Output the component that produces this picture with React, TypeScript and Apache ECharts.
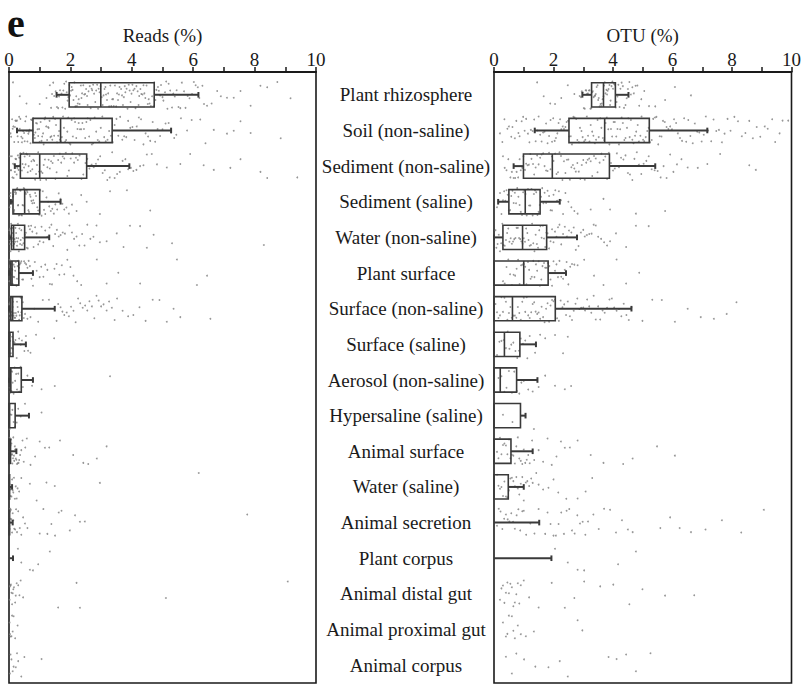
import React, { useEffect, useRef } from 'react';
import * as echarts from 'echarts';

const categories = [
  'Plant rhizosphere', 'Soil (non-saline)', 'Sediment (non-saline)', 'Sediment (saline)',
  'Water (non-saline)', 'Plant surface', 'Surface (non-saline)', 'Surface (saline)',
  'Aerosol (non-saline)', 'Hypersaline (saline)', 'Animal surface', 'Water (saline)',
  'Animal secretion', 'Plant corpus', 'Animal distal gut', 'Animal proximal gut', 'Animal corpus',
];

const xTicks = [0, 2, 4, 6, 8, 10];

// [whisker low, Q1, median, Q3, whisker high] per category (null = no box)
const readsBox: (number[] | null)[] = [
  [1.55, 1.96, 2.99, 4.73, 6.17],
  [0.26, 0.78, 1.68, 3.36, 5.28],
  [0.19, 0.37, 1.0, 2.53, 3.92],
  [0.06, 0.13, 0.51, 1.0, 1.68],
  [0.02, 0.08, 0.15, 0.51, 1.31],
  [0.0, 0.06, 0.1, 0.32, 0.78],
  [0.0, 0.06, 0.12, 0.42, 1.49],
  [0, 0, 0.03, 0.13, 0.55],
  [0, 0.04, 0.06, 0.4, 0.78],
  [0, 0, 0.02, 0.2, 0.65],
  [0, 0, 0.02, 0.05, 0.24],
  [0, 0, 0, 0.02, 0.1],
  [0, 0, 0, 0.02, 0.12],
  [0, 0, 0, 0.01, 0.13],
  null, null, null,
];

const otuBox: (number[] | null)[] = [
  [2.97, 3.28, 3.68, 4.08, 4.52],
  [1.37, 2.52, 3.72, 5.22, 7.17],
  [0.66, 0.99, 1.96, 3.88, 5.42],
  [0.14, 0.5, 1.05, 1.55, 2.21],
  [0, 0.3, 0.96, 1.77, 2.79],
  [0, 0, 1.0, 1.82, 2.42],
  [0, 0, 0.62, 2.06, 4.62],
  [0, 0, 0.35, 0.87, 1.41],
  [0, 0, 0.21, 0.76, 1.46],
  [0, 0, 0, 0.89, 1.06],
  [0, 0, 0, 0.57, 1.3],
  [0, 0, 0, 0.48, 1.0],
  [0, 0, 0, 0, 1.52],
  [0, 0, 0, 0, 1.93],
  null, null, null,
];

// individual sample values per category
const readsDots: number[][] = [
  [0.13, 0.35, 0.57, 1.0, 1.22, 1.33, 1.4, 1.47, 1.52, 1.6, 1.66, 1.71, 1.77, 1.83, 1.88, 1.93, 1.99, 2.04, 2.1, 2.16, 2.21, 2.27, 2.34, 2.38, 2.45, 2.51, 2.56, 2.63, 2.69, 2.74, 2.81, 2.87, 2.92, 2.98, 3.05, 3.11, 3.16, 3.23, 3.3, 3.36, 3.41, 3.49, 3.55, 3.6, 3.68, 3.74, 3.79, 3.86, 3.93, 3.99, 4.05, 4.12, 4.19, 4.24, 4.31, 4.38, 4.44, 4.52, 4.58, 4.66, 4.73, 4.8, 4.88, 4.95, 5.03, 5.12, 5.2, 5.31, 5.4, 5.52, 5.63, 5.75, 5.88, 6.02, 6.15, 6.3, 6.45, 6.78, 7.1, 7.32, 7.54, 7.87, 8.19, 8.41, 8.74, 9.17,
    1.37, 1.44, 1.56, 1.63, 1.74, 1.8, 1.86, 1.91, 1.97, 2.02, 2.07, 2.13, 2.19, 2.24, 2.3, 2.36, 2.42, 2.48, 2.54, 2.59, 2.66, 2.71, 2.77, 2.84, 2.9, 2.95, 3.02, 3.08, 3.14, 3.19, 3.26, 3.33, 3.39, 3.45, 3.52, 3.58, 3.65, 3.71, 3.77, 3.83, 3.9, 3.96, 4.02, 4.09, 4.15, 4.22, 4.28, 4.35, 4.41, 4.48, 4.55, 4.62, 4.7, 4.77, 4.85, 4.92, 5.0, 5.08, 5.16, 5.25, 5.35, 5.46, 5.58, 5.7, 5.82, 5.96, 6.08, 6.2, 6.35, 6.6, 6.9],
  [0.05, 0.1, 0.14, 0.19, 0.23, 0.28, 0.33, 0.37, 0.42, 0.46, 0.51, 0.56, 0.6, 0.65, 0.7, 0.74, 0.79, 0.84, 0.88, 0.93, 0.98, 1.03, 1.08, 1.13, 1.18, 1.24, 1.29, 1.35, 1.41, 1.47, 1.53, 1.6, 1.66, 1.72, 1.79, 1.86, 1.93, 2.0, 2.08, 2.15, 2.23, 2.31, 2.39, 2.48, 2.56, 2.65, 2.74, 2.84, 2.94, 3.04, 3.15, 3.26, 3.38, 3.5, 3.62, 3.75, 3.88, 4.02, 4.16, 4.3, 4.45, 4.6, 4.76, 4.92, 5.1, 5.28, 5.45, 5.8, 6.23, 6.67, 7.1, 7.32, 7.54, 7.87, 8.85,
    0.07, 0.12, 0.17, 0.21, 0.26, 0.3, 0.35, 0.4, 0.44, 0.49, 0.53, 0.58, 0.63, 0.67, 0.72, 0.77, 0.81, 0.86, 0.91, 0.95, 1.0, 1.06, 1.11, 1.16, 1.21, 1.27, 1.32, 1.38, 1.44, 1.5, 1.56, 1.63, 1.69, 1.76, 1.83, 1.9, 1.97, 2.04, 2.12, 2.19, 2.27, 2.35, 2.44, 2.52, 2.61, 2.7, 2.79, 2.89, 2.99, 3.1, 3.21, 3.32, 3.44, 3.56, 3.69, 3.82, 3.95, 4.09, 4.23, 4.38, 4.53, 4.68, 4.84, 5.0, 5.2, 5.38, 5.6, 5.95, 6.4],
  [0.03, 0.07, 0.11, 0.15, 0.19, 0.23, 0.27, 0.31, 0.35, 0.4, 0.44, 0.49, 0.54, 0.59, 0.64, 0.7, 0.76, 0.82, 0.88, 0.95, 1.02, 1.09, 1.17, 1.25, 1.33, 1.42, 1.51, 1.6, 1.7, 1.8, 1.9, 2.01, 2.12, 2.24, 2.36, 2.49, 2.62, 2.76, 2.9, 3.05, 3.2, 3.36, 3.52, 3.7, 3.88, 4.05, 4.27, 4.49, 4.82, 5.14, 5.58, 5.9, 6.34, 6.67, 7.21, 7.54, 8.19, 8.41, 9.39,
    0.05, 0.09, 0.13, 0.17, 0.21, 0.25, 0.29, 0.33, 0.37, 0.42, 0.47, 0.51, 0.56, 0.61, 0.67, 0.73, 0.79, 0.85, 0.91, 0.98, 1.05, 1.13, 1.21, 1.29, 1.37, 1.46, 1.55, 1.65, 1.75, 1.85, 1.95, 2.06, 2.18, 2.3, 2.42, 2.55, 2.69, 2.83, 2.97, 3.12, 3.28, 3.44, 3.61, 3.79, 3.97, 4.15, 4.38, 4.65],
  [0.02, 0.05, 0.08, 0.11, 0.14, 0.17, 0.2, 0.23, 0.27, 0.3, 0.34, 0.38, 0.42, 0.46, 0.5, 0.55, 0.6, 0.65, 0.7, 0.76, 0.82, 0.88, 0.95, 1.02, 1.1, 1.18, 1.27, 1.36, 1.46, 1.57, 1.68, 1.8, 1.95, 2.2, 2.53, 2.96, 3.29, 3.84, 4.6,
    0.03, 0.06, 0.1, 0.13, 0.16, 0.19, 0.22, 0.25, 0.29, 0.32, 0.36, 0.4, 0.44, 0.48, 0.53, 0.58, 0.63, 0.68, 0.73, 0.79, 0.85, 0.92, 0.98, 1.06, 1.14, 1.22, 1.31, 1.41, 1.51, 1.62, 1.74, 1.87, 2.05, 2.35],
  [0.01, 0.03, 0.05, 0.07, 0.09, 0.11, 0.13, 0.15, 0.18, 0.21, 0.24, 0.27, 0.3, 0.34, 0.38, 0.42, 0.47, 0.52, 0.58, 0.64, 0.72, 0.8, 0.9, 1.0, 1.12, 1.25, 1.38, 1.5, 1.62, 1.75, 1.9, 2.05, 2.2, 2.38, 2.55, 2.75, 2.96, 3.18, 3.51, 3.73, 3.94, 4.27, 4.49, 4.71, 5.31, 8.3,
    0.02, 0.04, 0.06, 0.08, 0.1, 0.12, 0.14, 0.17, 0.2, 0.23, 0.26, 0.29, 0.32, 0.36, 0.4, 0.45, 0.5, 0.55, 0.61, 0.68, 0.76, 0.85, 0.95, 1.06, 1.18, 1.32, 1.44, 1.56, 1.68, 1.82, 1.97, 2.12, 2.29, 2.46, 2.65, 2.85],
  [0.01, 0.03, 0.05, 0.07, 0.09, 0.12, 0.15, 0.18, 0.22, 0.26, 0.3, 0.35, 0.4, 0.46, 0.52, 0.6, 0.68, 0.78, 0.9, 1.0, 1.12, 1.25, 1.4, 1.55, 1.72, 1.9, 2.1, 2.35, 2.86, 3.18, 3.56, 4.27, 5.47, 6.12, 6.45,
    0.02, 0.04, 0.06, 0.08, 0.11, 0.14, 0.17, 0.2, 0.24, 0.28, 0.33, 0.38, 0.43, 0.49, 0.56, 0.64, 0.73, 0.84, 1.05, 1.18, 1.33, 1.48, 1.64, 1.8, 2.0, 2.22],
  [0.01, 0.03, 0.05, 0.07, 0.09, 0.12, 0.15, 0.18, 0.22, 0.26, 0.3, 0.35, 0.4, 0.45, 0.52, 0.6, 0.7, 0.82, 0.95, 1.1, 1.3, 1.55, 1.68, 1.8, 1.95, 2.1, 2.25, 2.4, 2.55, 2.7, 2.85, 3.0, 3.18, 3.35, 3.52, 3.7, 3.88, 4.05, 4.25, 4.45, 4.68, 4.9, 5.14, 5.36, 5.58, 6.56,
    0.02, 0.04, 0.06, 0.08, 0.1, 0.13, 0.16, 0.2, 0.24, 0.28, 0.33, 0.38, 0.43, 0.48, 1.6, 1.74, 1.88, 2.02, 2.17, 2.32, 2.48, 2.62, 2.78, 2.92, 3.08, 3.26, 3.44],
  [0.01, 0.04, 0.08, 0.12, 0.18, 0.25, 0.33, 0.42, 0.55, 0.7, 0.88, 1.47, 0.02, 0.06, 0.1, 0.15, 0.21, 0.3, 0.38, 0.5, 0.62],
  [0.01, 0.03, 0.06, 0.1, 0.15, 0.2, 0.26, 0.33, 0.45, 0.6, 0.75, 1.06, 1.49, 3.29, 0.02, 0.05, 0.08, 0.12, 0.18, 0.23, 0.3, 0.38],
  [0.02, 0.08, 0.15, 0.25, 0.38, 0.52, 1.06, 0.04, 0.11, 0.2, 0.3],
  [0.01, 0.02, 0.03, 0.05, 0.07, 0.09, 0.11, 0.14, 0.17, 0.2, 0.24, 0.28, 0.33, 0.4, 0.48, 0.58, 0.7, 0.85, 1.0, 1.17, 1.31, 1.66, 2.09, 2.42, 2.58, 2.86, 3.18,
    0.02, 0.04, 0.06, 0.08, 0.1, 0.13, 0.16, 0.19, 0.22, 0.26, 0.31, 0.36, 0.44, 0.53],
  [0.01, 0.03, 0.05, 0.08, 0.12, 0.16, 0.22, 0.28, 0.68, 0.9, 1.22, 1.49, 2.96, 6.18, 0.02, 0.04, 0.07, 0.1, 0.14, 0.19, 0.25, 0.33, 0.4],
  [0.01, 0.03, 0.05, 0.08, 0.12, 0.17, 0.23, 0.3, 0.4, 0.52, 1.0, 1.12, 1.25, 1.38, 1.5, 1.62, 1.71, 1.98, 2.15, 2.31, 2.47, 7.76, 0.02, 0.04, 0.06, 0.1, 0.14, 0.2, 0.26, 0.35, 0.46, 0.6],
  [0.29, 0.4, 0.68, 0.78, 0.95, 1.33],
  [0.02, 0.05, 0.08, 0.12, 0.16, 0.2, 0.25, 0.3, 0.38, 0.46, 1.6, 2.2, 2.31, 5.11, 9.08, 0.03, 0.06, 0.1, 0.14, 0.22, 0.34],
  [0.02, 0.05, 0.1, 0.15, 0.2, 0.28, 0.03, 0.08, 0.12],
  [0.03, 0.08, 0.15, 0.22, 0.3, 0.4, 0.5, 1.06, 0.05, 0.12, 0.26],
];

const otuDots: number[][] = [
  [1.45, 1.67, 1.89, 2.05, 2.26, 2.48, 2.7, 2.88, 2.95, 3.02, 3.08, 3.13, 3.19, 3.24, 3.3, 3.35, 3.4, 3.45, 3.5, 3.55, 3.6, 3.65, 3.7, 3.75, 3.8, 3.85, 3.9, 3.95, 4.0, 4.06, 4.12, 4.18, 4.25, 4.33, 4.42, 4.5, 4.6, 4.7, 4.82, 4.95, 5.21, 5.42, 5.75, 6.08, 6.62,
    2.92, 2.98, 3.05, 3.1, 3.16, 3.21, 3.27, 3.32, 3.38, 3.42, 3.48, 3.52, 3.58, 3.62, 3.68, 3.72, 3.78, 3.82, 3.88, 3.92, 3.98, 4.03, 4.09, 4.15, 4.22, 4.29, 4.37, 4.46, 4.55, 4.65, 4.76, 4.88, 5.05],
  [0.2, 0.35, 0.5, 0.62, 0.75, 0.86, 0.98, 1.08, 1.19, 1.3, 1.4, 1.5, 1.6, 1.7, 1.8, 1.9, 1.99, 2.08, 2.17, 2.26, 2.35, 2.44, 2.53, 2.62, 2.71, 2.8, 2.89, 2.98, 3.07, 3.16, 3.25, 3.34, 3.43, 3.52, 3.61, 3.7, 3.79, 3.88, 3.97, 4.06, 4.15, 4.24, 4.33, 4.42, 4.51, 4.6, 4.69, 4.78, 4.87, 4.96, 5.05, 5.15, 5.25, 5.35, 5.46, 5.57, 5.68, 5.8, 5.92, 6.05, 6.18, 6.32, 6.46, 6.6, 6.75, 6.9, 7.05, 7.2, 7.38, 7.56, 7.75, 7.95, 8.2, 8.45, 8.7, 8.95, 9.2, 9.45, 9.7, 9.89,
    0.28, 0.45, 0.58, 0.7, 0.82, 0.93, 1.03, 1.14, 1.24, 1.35, 1.45, 1.55, 1.65, 1.75, 1.85, 1.95, 2.04, 2.13, 2.22, 2.31, 2.4, 2.49, 2.58, 2.67, 2.76, 2.85, 2.94, 3.03, 3.12, 3.21, 3.3, 3.39, 3.48, 3.57, 3.66, 3.75, 3.84, 3.93, 4.02, 4.11, 4.2, 4.29, 4.38, 4.47, 4.56, 4.65, 4.74, 4.83, 4.92, 5.01, 5.1, 5.2, 5.3, 5.41, 5.52, 5.63, 5.74, 5.86, 5.98, 6.12, 6.25, 6.39, 6.53, 6.68, 6.83, 6.98, 7.12, 7.3, 7.47, 7.66, 7.85, 8.08, 8.33, 8.58, 8.83, 9.1, 9.35, 9.6],
  [0.3, 0.42, 0.55, 0.66, 0.76, 0.86, 0.95, 1.04, 1.13, 1.22, 1.31, 1.4, 1.5, 1.6, 1.7, 1.8, 1.9, 2.0, 2.1, 2.2, 2.3, 2.4, 2.5, 2.6, 2.7, 2.8, 2.9, 3.0, 3.1, 3.2, 3.3, 3.42, 3.55, 3.68, 3.8, 3.93, 4.06, 4.2, 4.35, 4.5, 4.65, 4.8, 4.95, 5.12, 5.3, 5.5, 5.7, 5.92, 6.15, 6.51, 7.17, 7.6, 8.58, 8.8,
    0.36, 0.48, 0.6, 0.71, 0.81, 0.9, 0.99, 1.08, 1.17, 1.26, 1.35, 1.45, 1.55, 1.65, 1.75, 1.85, 1.95, 2.05, 2.15, 2.25, 2.35, 2.45, 2.55, 2.65, 2.75, 2.85, 2.95, 3.05, 3.15, 3.25, 3.36, 3.48, 3.61, 3.74, 3.86, 4.0, 4.13, 4.27, 4.42, 4.57, 4.72, 4.87, 5.03, 5.2, 5.4, 5.6, 5.8, 6.03, 6.3, 6.85],
  [0.1, 0.2, 0.3, 0.38, 0.46, 0.54, 0.62, 0.7, 0.78, 0.86, 0.94, 1.02, 1.1, 1.18, 1.26, 1.34, 1.42, 1.5, 1.58, 1.66, 1.75, 1.85, 1.95, 2.06, 2.18, 2.32, 2.5, 2.7, 2.81, 3.25, 3.68, 3.9, 4.77, 5.75,
    0.15, 0.25, 0.34, 0.42, 0.5, 0.58, 0.66, 0.74, 0.82, 0.9, 0.98, 1.06, 1.14, 1.22, 1.3, 1.38, 1.46, 1.54, 1.62, 1.7, 1.8, 1.9, 2.0, 2.12, 2.25, 2.4, 2.6],
  [0.05, 0.12, 0.2, 0.28, 0.36, 0.44, 0.52, 0.6, 0.68, 0.76, 0.84, 0.92, 1.0, 1.08, 1.16, 1.24, 1.32, 1.4, 1.48, 1.56, 1.64, 1.72, 1.8, 1.9, 2.0, 2.1, 2.2, 2.32, 2.45, 2.6, 2.75, 2.92, 3.05, 3.2, 3.35, 3.5, 3.7, 3.9, 4.1, 4.44, 4.77, 5.2,
    0.08, 0.16, 0.24, 0.32, 0.4, 0.48, 0.56, 0.64, 0.72, 0.8, 0.88, 0.96, 1.04, 1.12, 1.2, 1.28, 1.36, 1.44, 1.52, 1.6, 1.68, 1.76, 1.85, 1.95, 2.05, 2.15, 2.26, 2.38, 2.52, 2.68, 2.84, 3.0, 3.12, 3.28, 3.42, 3.6, 3.8],
  [0.3, 0.42, 0.54, 0.66, 0.76, 0.86, 0.96, 1.05, 1.14, 1.23, 1.32, 1.41, 1.5, 1.59, 1.68, 1.77, 1.86, 1.95, 2.05, 2.15, 2.26, 2.38, 2.5, 2.62, 2.81, 3.03, 3.36, 3.68, 4.12, 4.44, 4.88,
    0.36, 0.48, 0.6, 0.71, 0.81, 0.91, 1.0, 1.09, 1.18, 1.27, 1.36, 1.45, 1.54, 1.63, 1.72, 1.81, 1.9, 2.0, 2.1, 2.2, 2.32, 2.44, 2.56, 2.7],
  [0.05, 0.15, 0.25, 0.35, 0.45, 0.55, 0.65, 0.75, 0.85, 0.95, 1.05, 1.15, 1.25, 1.35, 1.45, 1.55, 1.65, 1.75, 1.85, 1.95, 2.05, 2.18, 2.3, 2.42, 2.55, 2.68, 2.8, 2.93, 3.06, 3.2, 3.35, 3.5, 3.65, 3.8, 3.96, 4.12, 4.28, 4.45, 4.62, 4.99, 5.32, 5.64, 6.08, 6.51, 6.95, 7.39, 7.82, 8.15,
    0.1, 0.2, 0.3, 0.4, 0.5, 0.6, 0.7, 0.8, 0.9, 1.0, 1.1, 1.2, 1.3, 1.4, 1.5, 1.6, 1.7, 1.8, 1.9, 2.0, 2.12, 2.24, 2.36, 2.48, 2.62, 2.74, 2.87, 3.0, 3.13, 3.27, 3.42, 3.57, 3.72, 3.88, 4.04, 4.2, 4.36, 4.53],
  [0.1, 0.25, 0.4, 0.52, 0.65, 0.78, 0.9, 1.05, 1.2, 1.38, 1.55, 1.72, 2.05, 2.32, 2.48, 0.18, 0.33, 0.46, 0.58, 0.72, 0.84, 0.97, 1.12],
  [0.15, 0.35, 0.5, 0.68, 0.85, 1.0, 1.15, 1.3, 1.5, 1.72, 2.05, 2.38, 2.59, 0.25, 0.42, 0.6, 0.77, 0.92],
  [1.34, 0.3, 0.62],
  [0.1, 0.2, 0.3, 0.4, 0.5, 0.6, 0.7, 0.8, 0.9, 1.0, 1.1, 1.2, 1.35, 1.5, 1.65, 1.8, 1.94, 2.1, 2.25, 2.38, 2.55, 2.81, 3.25, 3.68, 4.34, 4.66, 5.48, 6.08,
    0.15, 0.25, 0.35, 0.45, 0.55, 0.65, 0.75, 0.85, 0.95, 1.05, 1.15, 1.28],
  [0.1, 0.2, 0.3, 0.4, 0.5, 0.6, 0.7, 0.8, 0.9, 1.0, 1.07, 1.18, 1.3, 1.42, 1.5, 1.65, 1.83, 2.0, 2.16, 2.43, 2.81, 3.08, 3.3,
    0.15, 0.25, 0.35, 0.45, 0.55, 0.65, 0.75, 0.85, 0.95, 1.12, 1.25],
  [0.1, 0.22, 0.34, 0.46, 0.58, 0.7, 0.82, 0.95, 1.08, 1.22, 1.36, 1.5, 1.72, 1.9, 2.08, 2.26, 2.44, 2.62, 2.8, 2.98, 3.16, 3.34, 3.52, 3.7, 3.9, 4.1, 4.3, 4.5, 4.66, 5.59, 5.92, 6.24, 6.62, 7.11, 7.66, 8.31, 9.07,
    0.16, 0.28, 0.4, 0.52, 0.64, 0.76, 0.88, 1.0, 1.8, 2.0, 2.17, 2.35, 2.53, 2.71, 2.89, 3.07],
  [2.05, 2.48, 2.81, 3.03, 4.17, 4.77],
  [0.2, 0.3, 0.4, 0.5, 0.6, 0.7, 0.8, 0.9, 1.0, 1.18, 1.5, 1.94, 2.38, 2.7, 3.03, 3.57, 4.01, 4.55, 4.99, 5.75, 6.73, 0.25, 0.35, 0.45, 0.55, 0.65, 0.75, 0.85],
  [0.3, 0.4, 0.5, 0.6, 0.7, 0.8, 0.9, 1.07, 1.34, 2.81, 2.97, 0.45, 0.65],
  [0.6, 1.01, 1.39, 1.83, 2.21, 2.48, 3.85, 4.12, 4.44, 4.77, 5.26, 0.4, 0.75],
];

const SERIF = '"Liberation Serif", "DejaVu Serif", serif';
const INK = '#1a1a1a';
const BOX = '#3a3a3a';

// vertical jitter (presentation only, not data), in category units
function jitter(i: number, row: number): number {
  const h = ((i * i * 37 + i * 11 + row * 53 + 5) % 97) / 96;
  return (h - 0.5) * 0.78;
}

function dotData(rows: number[][]) {
  const out: number[][] = [];
  rows.forEach((vals, r) => vals.forEach((v, i) => out.push([v, r + jitter(i, r)])));
  return out;
}

function boxData(rows: (number[] | null)[]) {
  const out: number[][] = [];
  rows.forEach((b, r) => { if (b) out.push([...b, r]); });
  return out;
}

function renderBox(_params: any, api: any) {
  const row = api.value(5);
  const yc = api.coord([0, row])[1];
  const unit = api.size([0, 1])[1];
  const hh = unit * 0.34;
  const x = [0, 1, 2, 3, 4].map((k) => api.coord([api.value(k), row])[0]);
  const children: any[] = [];
  const capH = 2.8;
  if (x[3] - x[1] > 0.5) {
    children.push({
      type: 'rect',
      shape: { x: x[1], y: yc - hh, width: x[3] - x[1], height: 2 * hh },
      style: { fill: 'none', stroke: BOX, lineWidth: 1.6 },
    });
    if (x[2] > x[1] + 0.5 && x[2] < x[3] - 0.5) {
      children.push({
        type: 'line',
        shape: { x1: x[2], y1: yc - hh, x2: x[2], y2: yc + hh },
        style: { stroke: BOX, lineWidth: 1.6 },
      });
    }
  }
  if (x[1] - x[0] > 0.5) {
    children.push({ type: 'line', shape: { x1: x[0], y1: yc, x2: x[1], y2: yc }, style: { stroke: BOX, lineWidth: 2 } });
    children.push({ type: 'line', shape: { x1: x[0], y1: yc - capH, x2: x[0], y2: yc + capH }, style: { stroke: BOX, lineWidth: 2 } });
  }
  if (x[4] - x[3] > 0.5) {
    children.push({ type: 'line', shape: { x1: x[3], y1: yc, x2: x[4], y2: yc }, style: { stroke: BOX, lineWidth: 2 } });
    children.push({ type: 'line', shape: { x1: x[4], y1: yc - capH, x2: x[4], y2: yc + capH }, style: { stroke: BOX, lineWidth: 2 } });
  }
  return { type: 'group', children };
}

function valueXAxis(gridIndex: number, name: string) {
  return {
    gridIndex,
    type: 'value',
    position: 'top',
    min: xTicks[0],
    max: xTicks[xTicks.length - 1],
    interval: 2,
    name,
    nameLocation: 'middle',
    nameGap: 27,
    nameTextStyle: { fontSize: 19, fontFamily: SERIF, color: INK },
    axisLine: { show: true, onZero: false, lineStyle: { color: INK, width: 2 } },
    axisTick: { show: true, inside: false, length: 5, lineStyle: { color: INK, width: 1.5 } },
    minorTick: { show: true, splitNumber: 2, length: 5, lineStyle: { color: INK, width: 1.5 } },
    splitLine: { show: false },
    minorSplitLine: { show: false },
    axisLabel: { margin: 3, fontSize: 19, fontFamily: SERIF, color: INK },
  };
}

function hiddenYAxis(gridIndex: number) {
  return { gridIndex, type: 'value', min: -0.64, max: 16.5, inverse: true, show: false, splitLine: { show: false } };
}

export default function App() {
  const ref = useRef<HTMLDivElement>(null);
  useEffect(() => {
    if (!ref.current) return;
    const chart = echarts.init(ref.current, undefined, { renderer: 'svg' });
    const gridStyle = { show: true, borderColor: INK, borderWidth: 1.6, backgroundColor: 'transparent' };
    const dotStyle = { color: '#7d7d7d', opacity: 0.8 };
    const option: any = {
      animation: false,
      backgroundColor: '#ffffff',
      grid: [
        { left: 9, top: 72, width: 307, height: 611, ...gridStyle },
        { left: 494, top: 72, width: 306, height: 611, ...gridStyle },
        { left: 406, top: 77, width: 1, height: 606 },
      ],
      xAxis: [
        valueXAxis(0, 'Reads (%)'),
        valueXAxis(1, 'OTU (%)'),
        { gridIndex: 2, type: 'value', show: false },
      ],
      yAxis: [
        hiddenYAxis(0),
        hiddenYAxis(1),
        {
          gridIndex: 2,
          type: 'category',
          data: categories,
          inverse: true,
          axisLine: { show: false },
          axisTick: { show: false },
          splitLine: { show: false },
          axisLabel: { margin: 0, align: 'center', fontSize: 19, fontFamily: SERIF, color: INK, interval: 0 },
        },
      ],
      graphic: [
        {
          type: 'text',
          left: 7,
          top: 3,
          style: { text: 'e', font: `bold 40px ${SERIF}`, fill: '#111' },
        },
      ],
      series: [
        {
          type: 'scatter', xAxisIndex: 0, yAxisIndex: 0, data: dotData(readsDots),
          symbolSize: 1.8, silent: true, itemStyle: dotStyle,
        },
        {
          type: 'scatter', xAxisIndex: 1, yAxisIndex: 1, data: dotData(otuDots),
          symbolSize: 1.8, silent: true, itemStyle: dotStyle,
        },
        {
          type: 'custom', xAxisIndex: 0, yAxisIndex: 0, data: boxData(readsBox),
          encode: { x: [0, 1, 2, 3, 4], y: 5 }, renderItem: renderBox, silent: true, z: 5,
        },
        {
          type: 'custom', xAxisIndex: 1, yAxisIndex: 1, data: boxData(otuBox),
          encode: { x: [0, 1, 2, 3, 4], y: 5 }, renderItem: renderBox, silent: true, z: 5,
        },
      ],
    };
    chart.setOption(option);
    return () => chart.dispose();
  }, []);
  return (
    <div
      ref={ref}
      style={{ position: 'absolute', left: 0, top: 0, width: 804, height: 684, background: '#fff' }}
    />
  );
}
